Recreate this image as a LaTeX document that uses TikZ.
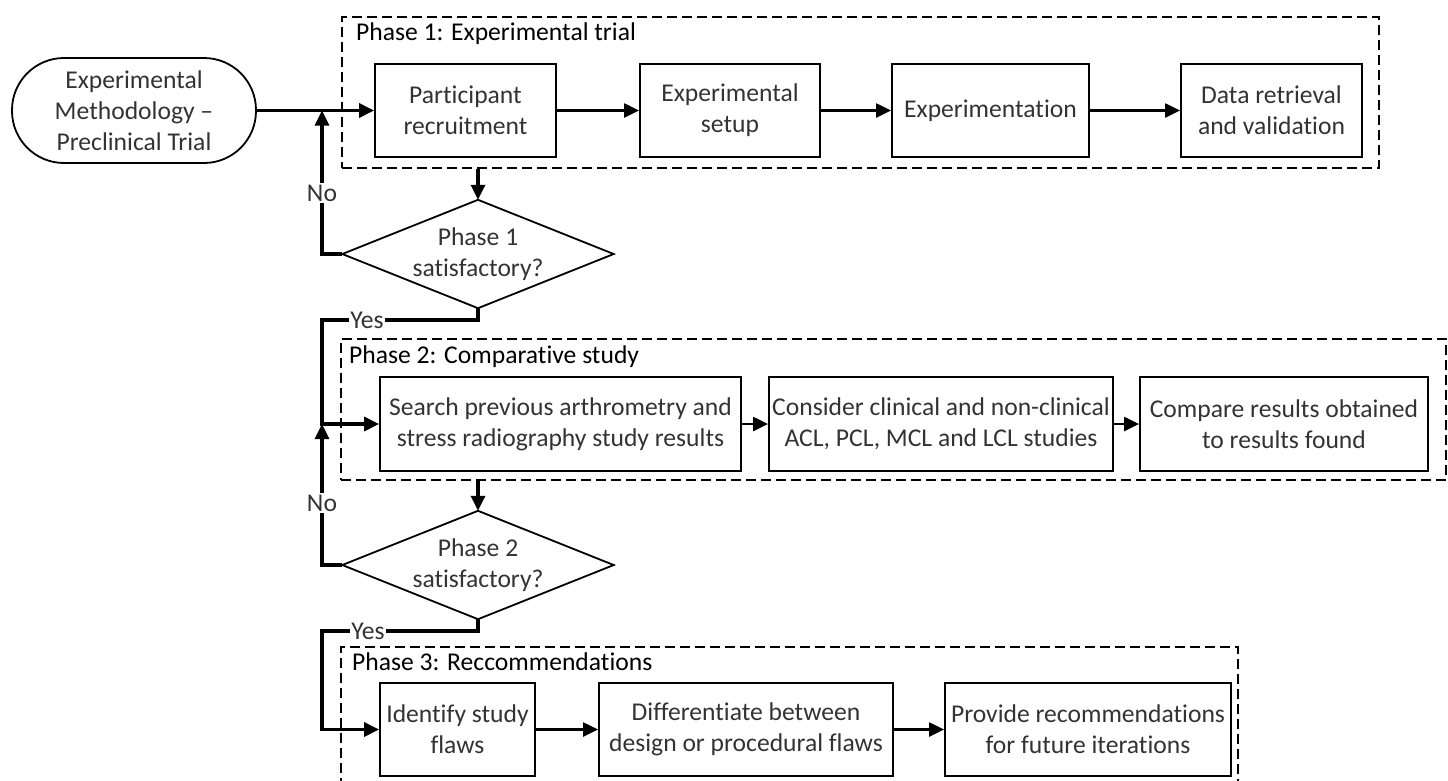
\documentclass[tikz,border=0pt]{standalone}
\usepackage{fontspec}
\setmainfont{Carlito}[RawFeature={-liga;-clig;-calt;-dlig;-rlig}]
\usetikzlibrary{arrows.meta}
\begin{document}
\begin{tikzpicture}[x=1pt,y=-1pt,
  every node/.style={font=\fontsize{25.6}{31}\selectfont},
  stepbox/.style={draw, line width=1.8pt, minimum height=93pt, inner sep=0pt, align=center, text=black!80},
  startbox/.style={draw, line width=1.8pt, rounded corners=52pt, minimum width=244pt, minimum height=105pt, inner sep=0pt, align=center, text=black!80},
  decision/.style={minimum width=271pt, minimum height=108pt, inner sep=0pt, align=center, text=black!80},
  phasebox/.style={draw, line width=1.6pt, dash pattern=on 10pt off 5pt, inner sep=0pt},
  phaselabel/.style={anchor=west, inner sep=0pt, text=black},
  flow/.style={line width=3.2pt, -{Triangle[length=15pt,width=14pt]}},
  link/.style={line width=2.2pt, -{Triangle[length=15pt,width=14pt]}},
  branch/.style={fill=white, inner sep=2pt, text=black!80},
]
\useasboundingbox (0,0) rectangle (1448,780);
\clip (0,0) rectangle (1448,780);

% phase frames
\node[phasebox, minimum width=1037pt, minimum height=151pt] (ph1) at (860.5,92.5) {};
\node[phasebox, minimum width=1105pt, minimum height=141pt] (ph2) at (893.5,409.5) {};
\node[phasebox, minimum width=897pt, minimum height=160pt] (ph3) at (789.5,727) {};
\node[phaselabel] (l1) at (356,34) {Phase 1: Experimental trial};
\node[phaselabel] (l2) at (349,357) {Phase 2: Comparative study};
\node[phaselabel] (l3) at (352,662) {Phase 3: Reccommendations};

% start
\node[startbox] (start) at (134,110.5) {Experimental\\Methodology --\\Preclinical Trial};

% phase 1 steps
\node[stepbox, minimum width=181pt] (part) at (465.5,110.5) {Participant\\recruitment};
\node[stepbox, minimum width=180pt] (setup) at (730,110.5) {Experimental\\setup};
\node[stepbox, minimum width=197pt] (exper) at (990.5,110.5) {Experimentation};
\node[stepbox, minimum width=181pt] (data) at (1271.5,110.5) {Data retrieval\\and validation};

% phase 2 steps
\node[stepbox, minimum width=361pt, minimum height=94pt] (search) at (560.5,424) {Search previous arthrometry and\\stress radiography study results};
\node[stepbox, minimum width=344pt, minimum height=94pt] (consider) at (941,424) {Consider clinical and non-clinical\\ACL, PCL, MCL and LCL studies};
\node[stepbox, minimum width=288pt, minimum height=94pt] (compare) at (1284,424) {Compare results obtained\\to results found};

% phase 3 steps
\node[stepbox, minimum width=155pt] (ident) at (457.5,729.5) {Identify study\\flaws};
\node[stepbox, minimum width=294pt] (diff) at (746,729.5) {Differentiate between\\design or procedural flaws};
\node[stepbox, minimum width=286pt] (prov) at (1088,729.5) {Provide recommendations\\for future iterations};

% decisions
\node[decision] (d1) at (478,254) {Phase 1\\satisfactory?};
\draw[line width=1.8pt, line join=miter] (d1.north) -- (d1.east) -- (d1.south) -- (d1.west) -- cycle;
\node[decision] (d2) at (478,565) {Phase 2\\satisfactory?};
\draw[line width=1.8pt, line join=miter] (d2.north) -- (d2.east) -- (d2.south) -- (d2.west) -- cycle;

% loop-back junctions
\coordinate (j1) at (322,110.5);
\coordinate (j2) at (322,424);
\coordinate (y1) at (322,320);
\coordinate (y2) at (322,631);

% main flow
\draw[flow] (start.east) -- (part.west);
\draw[flow] (d1.north |- ph1.south) -- (d1.north);
\draw[flow] (d2.north |- ph2.south) -- (d2.north);

% no branches
\draw[flow] (d1.west) -- (d1.west -| j1) -- (j1);
\node[branch] (no1) at (322,193) {No};
\draw[flow] (d2.west) -- (d2.west -| j2) -- (j2);
\node[branch] (no2) at (322,503) {No};

% yes branches
\draw[flow] (d1.south) -- (d1.south |- y1) -- (y1) -- (j2) -- (search.west);
\node[branch, inner sep=1pt] (yes1) at (367,320) {Yes};
\draw[flow] (d2.south) -- (d2.south |- y2) -- (y2) -- (y2 |- ident.west) -- (ident.west);
\node[branch, inner sep=1pt] (yes2) at (368,631) {Yes};

% step links
\draw[link] (part) -- (setup);
\draw[link] (setup) -- (exper);
\draw[link] (exper) -- (data);
\draw[link] (search) -- (consider);
\draw[link] (consider) -- (compare);
\draw[link] (ident) -- (diff);
\draw[link] (diff) -- (prov);
\end{tikzpicture}
\end{document}
